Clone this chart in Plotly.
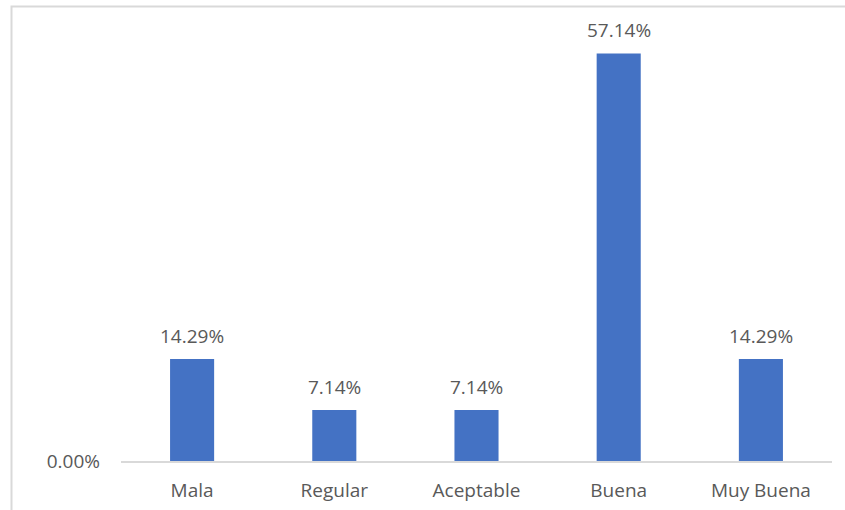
import plotly.graph_objects as go

categories = ["Mala", "Regular", "Aceptable", "Buena", "Muy Buena"]
values = [14.29, 7.14, 7.14, 57.14, 14.29]
labels = [f"{v:.2f}%" for v in values]

W, H = 845, 510
ML, MR, MT, MB = 121, 13, 33, 49
pw, ph = W - ML - MR, H - MT - MB
FS = 19

def px_to_paper_x(x):
    return (x - ML) / pw

def px_to_paper_y(y):
    return (H - MB - y) / ph

fig = go.Figure()
fig.add_trace(go.Bar(
    x=categories, y=values,
    marker=dict(color="#4472C4", line=dict(width=0)),
    width=0.31,
    hoverinfo="skip",
))

for c, v, t in zip(categories, values, labels):
    fig.add_annotation(x=c, y=v, text=t, showarrow=False, yanchor="bottom",
                       yshift=8, font=dict(size=FS, color="#595959"))

fig.add_shape(type="rect", xref="paper", yref="paper",
              x0=px_to_paper_x(11.5), x1=px_to_paper_x(860),
              y0=px_to_paper_y(525), y1=px_to_paper_y(6.5),
              line=dict(color="#d9d9d9", width=2), layer="below")

fig.update_layout(
    width=W, height=H,
    margin=dict(l=ML, r=MR, t=MT, b=MB),
    paper_bgcolor="white", plot_bgcolor="white",
    font=dict(family="Open Sans", size=FS, color="#595959"),
    showlegend=False,
    xaxis=dict(showline=True, linecolor="#d9d9d9", linewidth=2, ticks="",
               tickfont=dict(size=FS, color="#595959"), showgrid=False,
               ticklabelstandoff=11, automargin=False),
    yaxis=dict(range=[0, 60], tickvals=[0], ticktext=["0.00%"], showgrid=False,
               zeroline=False, showline=False, ticks="", automargin=False,
               tickfont=dict(size=FS, color="#595959"), ticklabelstandoff=20),
)

fig.write_html("out.html")
